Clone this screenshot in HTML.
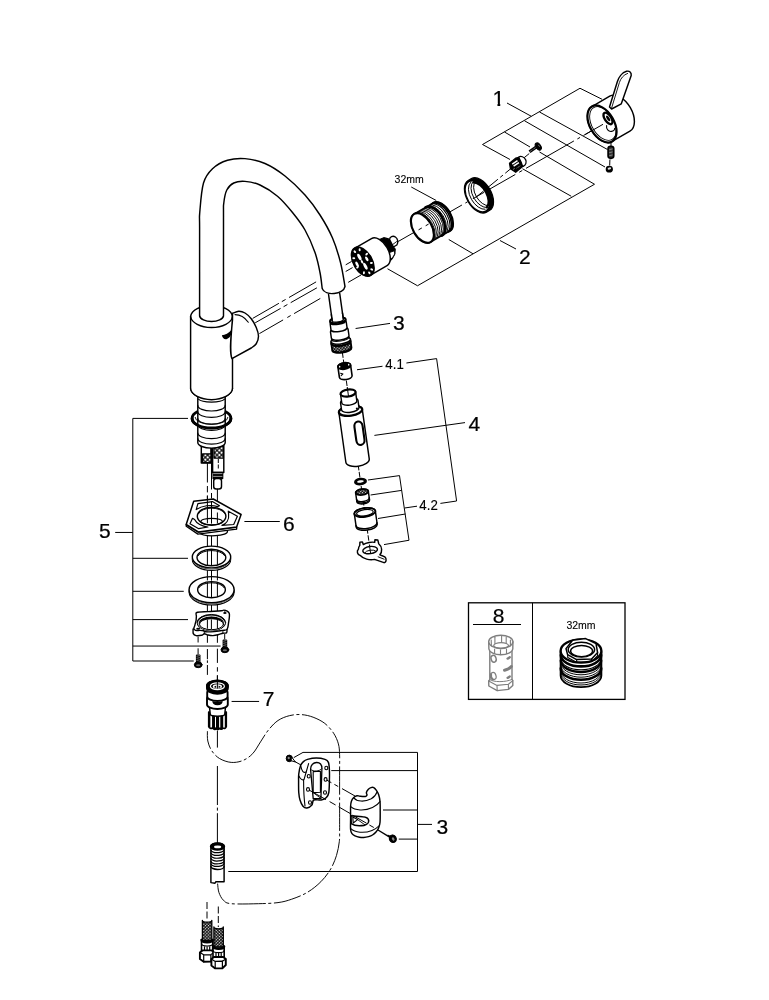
<!DOCTYPE html>
<html><head><meta charset="utf-8"><title>Exploded view</title>
<style>
html,body{margin:0;padding:0;background:#fff;}
svg{display:block;will-change:transform;}
text{font-family:"Liberation Sans",sans-serif;fill:#000;stroke:#000;stroke-width:0.22;}
.m{fill:none;stroke:#000;stroke-width:1.45;stroke-linecap:round;stroke-linejoin:round;}
.mf{fill:#fff;stroke:#000;stroke-width:1.45;stroke-linecap:round;stroke-linejoin:round;}
.h{fill:none;stroke:#000;stroke-width:2.2;stroke-linecap:round;stroke-linejoin:round;}
.hf{fill:#fff;stroke:#000;stroke-width:2.2;stroke-linecap:round;stroke-linejoin:round;}
.t{fill:none;stroke:#000;stroke-width:0.9;stroke-linecap:round;stroke-linejoin:round;}
.tf{fill:#fff;stroke:#000;stroke-width:0.9;stroke-linejoin:round;}
.l{fill:none;stroke:#000;stroke-width:1;}
.d{fill:none;stroke:#000;stroke-width:1;stroke-dasharray:13 2.5 2.5 2.5;}
.d2{fill:none;stroke:#000;stroke-width:1;stroke-dasharray:9 3;}
.k{fill:#000;stroke:none;}
.w{fill:#fff;stroke:none;}
.g{fill:none;stroke:#7e7e7e;stroke-width:1.4;stroke-linecap:round;stroke-linejoin:round;}
.gf{fill:#fff;stroke:#7e7e7e;stroke-width:1.4;stroke-linecap:round;stroke-linejoin:round;}
</style></head>
<body>
<svg width="769" height="1000" viewBox="0 0 769 1000">
<defs>
<pattern id="braid" width="2.2" height="2.2" patternUnits="userSpaceOnUse" patternTransform="rotate(45)"><rect width="2.2" height="2.2" fill="#000"/><rect x="0.55" y="0.55" width="1.25" height="1.25" fill="#fff"/></pattern>
<pattern id="braid2" width="3.3" height="3.3" patternUnits="userSpaceOnUse" patternTransform="rotate(45)"><rect width="3.3" height="3.3" fill="#000"/><rect x="0.55" y="0.55" width="2.2" height="2.2" fill="#fff"/></pattern>
</defs>
<rect width="769" height="1000" fill="#fff"/>

<g id="axis-lines-and-leaders">
<path class="l" d="M510,159.5L482.5,144.5L580,88.25L602,99.25"/>
<path class="l" d="M504.5,132L530,147"/>
<path class="l" d="M524.5,120.75L605,167"/>
<path class="l" d="M539.5,112L607.5,149.5"/>
<path class="l" d="M507,103L531.25,116.25"/>
<path class="l" d="M387.5,268.75L417.5,285.75L594.5,184.25L539.5,152"/>
<path class="l" d="M571.25,196.25L522.5,168.75"/>
<path class="l" d="M448.75,239.5L473,253.75"/>
<path class="l" d="M500,240.5L516,249"/>
<path class="l" d="M411.25,187L436.25,200.5"/>
<path class="l" d="M355.6,328.5L390,323.4"/>
<path class="l" d="M357,369.75L382.5,366.25"/>
<path class="l" d="M406.4,363L436.6,358.6L456.6,501L440.4,503.4"/>
<path class="l" d="M374.4,435.4L465,422.6"/>
<path class="l" d="M368,480L399.5,475.6L409,540.25L384,544.6"/>
<path class="l" d="M370.6,495L401.6,490.4"/>
<path class="l" d="M378,518.5L405.4,514"/>
<path class="l" d="M404.6,508L417,506.2"/>
<path class="l" d="M188,418.4L132.8,418.4L132.8,661L193.75,661"/>
<path class="l" d="M132.8,558.3L188,558.3"/>
<path class="l" d="M132.8,591.3L183.75,591.3"/>
<path class="l" d="M132.8,619.6L188,619.6"/>
<path class="l" d="M132.8,646.05L220.6,646.05"/>
<path class="l" d="M115.2,532.45L132.8,532.45"/>
<path class="l" d="M244.4,521.5L279.8,521.5"/>
<path class="l" d="M231.6,701.45L259.1,701.45"/>
<path class="l" d="M293.75,757.6L303,752.4L417.5,752.4L417.5,871.5L228.3,871.5"/>
<path class="l" d="M331.25,770.6L417.5,770.6"/>
<path class="l" d="M383,810L417.5,810"/>
<path class="l" d="M398.75,839.1L417.5,839.1"/>
<path class="l" d="M417.5,824.4L432,824.4"/>
<clipPath id="c1"><path d="M485,85H510V102.9H500.25V107H497.45V102.9H485Z"/></clipPath>
<g clip-path="url(#c1)"><text x="492.5" y="106" font-size="21.7" text-anchor="start">1</text></g>
<text x="518.9" y="264" font-size="21" text-anchor="start">2</text>
<text x="393.1" y="330" font-size="21" text-anchor="start">3</text>
<text x="468.4" y="431" font-size="21" text-anchor="start">4</text>
<text x="99" y="538" font-size="21" text-anchor="start">5</text>
<text x="282.9" y="530.6" font-size="21" text-anchor="start">6</text>
<text x="262.7" y="706.4" font-size="21" text-anchor="start">7</text>
<text x="436.6" y="834" font-size="21" text-anchor="start">3</text>
<text transform="translate(385.3,369) scale(0.95,1)" font-size="14" style="stroke-width:0.12">4.1</text>
<text transform="translate(419.3,510) scale(0.95,1)" font-size="14" style="stroke-width:0.12">4.2</text>
<text x="394.6" y="182.6" font-size="10.5" text-anchor="start" style="stroke-width:0.1">32mm</text>
</g>
<g id="faucet">
<path class="l" d="M252.7,318.4L278.9,303.31"/>
<path class="l" d="M281.8,301.64L285.6,299.45"/>
<path class="l" d="M289,297.49L316.1,281.88"/>
<path class="l" d="M345.7,264.83L351.6,261.43"/>
<path class="l" d="M255.2,322.8L280.6,308.4"/>
<path class="l" d="M283.6,306.7L287.4,304.54"/>
<path class="l" d="M290.7,302.67L316.9,287.82"/>
<path class="l" d="M345.7,271.49L352.6,267.57"/>
<path class="l" d="M259.4,333.6L283.1,319.93"/>
<path class="l" d="M287.3,317.5L290.7,315.54"/>
<path class="l" d="M294.1,313.58L320.3,298.46"/>
<path class="l" d="M348.2,282.36L361,274.98"/>
<path class="mf" d="M190.6,316.5L190.6,388.5A21,12 0 0 0 232.5,388.5L232.5,316.5A21,11.8 0 0 0 190.6,316.5Z"/>
<path class="m" d="M190.6,316.5A21,11.8 0 0 0 232.5,316.5"/>
<path class="mf" d="M199.6,316C199.6,301.67 199.57,247.33 199.6,230C199.63,212.67 199.15,219.83 199.8,212C200.45,204.17 201.38,190.21 203.5,183C205.62,175.79 208.5,172.53 212.5,168.75C216.5,164.97 222.08,161.99 227.5,160.3C232.92,158.61 238.75,158.07 245,158.6C251.25,159.13 258.33,160.6 265,163.5C271.67,166.4 278.33,170.75 285,176C291.67,181.25 299.17,188.5 305,195C310.83,201.5 315.42,207.83 320,215C324.58,222.17 329.08,230.08 332.5,238C335.92,245.92 338.42,254.42 340.5,262.5C342.58,270.58 344.25,282.5 345,286.5C343.5,294.5 325,296.5 322.2,288.5L322.2,288.5C321.83,285.83 321.2,278.5 320,272.5C318.8,266.5 317.5,259.58 315,252.5C312.5,245.42 308.75,236.67 305,230C301.25,223.33 297.08,218.12 292.5,212.5C287.92,206.88 282.92,200.83 277.5,196.25C272.08,191.67 265.42,187.47 260,185C254.58,182.53 249.38,181.73 245,181.4C240.62,181.07 236.78,181.57 233.75,183C230.72,184.43 228.46,186.67 226.8,190C225.14,193.33 224.35,198 223.8,203C223.25,208 223.55,201.17 223.5,220C223.45,238.83 223.5,300 223.5,316A12,6 0 0 1 199.6,316Z"/>
<path class="mf" d="M232.5,313.3C233.54,312.97 236.67,311.35 238.75,311.3C240.83,311.25 242.92,311.76 245,313C247.08,314.24 249.38,316.33 251.25,318.75C253.12,321.17 255.04,324.58 256.25,327.5C257.46,330.42 258.5,333.54 258.5,336.25C258.5,338.96 257.46,341.79 256.25,343.75C255.04,345.71 252.08,347.29 251.25,348L231.9,358.6C229.5,352 230.5,340 232.5,320Z"/>
<path class="m" d="M235,314.6C240,314.6 245,317.6 248.3,322.2" style="stroke-width:1.1"/>
<path class="k" d="M221.9,335.2C225,335.2 229,333.2 231.5,329.8C232.2,333.6 230.6,337.6 227,339C224.4,339.8 222.2,338 221.9,335.2Z"/>
</g>
<g id="handle-group">
<path class="l" d="M603,124.3L583.47,135.47"/>
<path class="l" d="M580,137.46L577.39,138.95"/>
<path class="l" d="M573.92,140.94L526.01,168.35"/>
<path class="l" d="M522.28,170.48L519.24,172.22"/>
<path class="l" d="M515.33,174.46L471.06,199.78"/>
<path class="l" d="M467.59,201.77L465.34,203.06"/>
<path class="l" d="M461.95,205L425.67,225.76"/>
<path class="l" d="M421.85,227.94L418.55,229.83"/>
<path class="l" d="M415.08,231.81L398.15,241.5"/>
<path class="l" d="M478.2,195.4L497.91,179.23"/>
<path class="l" d="M500.23,177.33L502.94,175.11"/>
<path class="l" d="M505.25,173.21L512.21,167.5"/>
<path class="l" d="M524.19,157.68L529.22,153.56"/>
<path class="mf" d="M372,240L379.5,239.5L383.8,237.7L388.5,238.9L390.8,242.8L393.1,246.7L395.2,249.2L394.8,254L392.2,258.6L388.5,262.6L380,262Z" style="fill:#000;stroke-width:1.2"/>
<path class="mf" d="M389.8,252.4L394.4,250.8L394.7,254L392.2,258.3L389.9,258.6Z" style="stroke-width:0.9"/>
<path class="mf" d="M389.6,239.6C389.4,236.6 393,235.4 395.4,237C397.8,238.6 398.6,242.6 396.8,245L393.4,247Z" style="stroke-width:1.4"/>
<path class="t" d="M392.6,244.6L396.6,241.6"/>
<path class="mf" d="M355,248.09L371.45,238.59A15.6,9 60 0 1 387.05,247.6A15.6,9 60 0 1 387.05,265.61L370.6,275.11A15.6,9 60 0 1 355,266.1A15.6,9 60 0 1 355,248.09Z"/>
<ellipse class="hf" cx="362.8" cy="261.6" rx="15.6" ry="9" transform="rotate(60 362.8 261.6)" style="stroke-width:2.2;fill:#000"/>
<ellipse class="w" cx="359.4" cy="257" rx="3.6" ry="1.5" transform="rotate(62 359.4 257)"/>
<ellipse class="w" cx="365.4" cy="266.2" rx="3.8" ry="1.5" transform="rotate(62 365.4 266.2)"/>
<ellipse class="w" cx="357" cy="264.2" rx="2.8" ry="1.3" transform="rotate(62 357 264.2)"/>
<ellipse class="w" cx="366.8" cy="258.8" rx="2.6" ry="1.3" transform="rotate(60 366.8 258.8)"/>
<ellipse class="w" cx="362" cy="261.8" rx="1.8" ry="1" transform="rotate(62 362 261.8)"/>
<ellipse class="w" cx="369.3" cy="272.86" rx="1.5" ry="1" transform="rotate(60 369.3 272.86)"/>
<ellipse class="w" cx="363.92" cy="272.78" rx="1.5" ry="1" transform="rotate(98 363.92 272.78)"/>
<ellipse class="w" cx="357.53" cy="267.25" rx="1.5" ry="1" transform="rotate(140 357.53 267.25)"/>
<ellipse class="w" cx="353.75" cy="258.21" rx="1.5" ry="1" transform="rotate(185 353.75 258.21)"/>
<ellipse class="w" cx="354.84" cy="251.7" rx="1.5" ry="1" transform="rotate(225 354.84 251.7)"/>
<ellipse class="w" cx="359.65" cy="249.81" rx="1.5" ry="1" transform="rotate(265 359.65 249.81)"/>
<ellipse class="w" cx="366.68" cy="254.23" rx="1.5" ry="1" transform="rotate(310 366.68 254.23)"/>
<ellipse class="w" cx="371.43" cy="262.96" rx="1.5" ry="1" transform="rotate(355 371.43 262.96)"/>
<ellipse class="w" cx="371.68" cy="269.47" rx="1.5" ry="1" transform="rotate(390 371.68 269.47)"/>
<path class="mf" d="M414.25,213.88L433.3,202.88A16.3,9.41 60 0 1 449.6,212.3A16.3,9.41 60 0 1 449.6,231.12L430.55,242.12A16.3,9.41 60 0 1 414.25,232.7A16.3,9.41 60 0 1 414.25,213.88Z"/>
<path class="m" d="M433.3,202.88A16.3,9.41 60 0 1 449.6,212.3A16.3,9.41 60 0 1 449.6,231.12" style="stroke-width:2.2"/>
<path class="m" d="M431.83,203.73A16.3,9.41 60 0 1 448.13,213.15A16.3,9.41 60 0 1 448.13,231.97" style="stroke-width:1.6"/>
<path class="m" d="M430.36,204.58A16.3,9.41 60 0 1 446.65,214A16.3,9.41 60 0 1 446.66,232.82" style="stroke-width:1.1"/>
<path class="m" d="M428.63,205.58A16.3,9.41 60 0 1 444.92,215A16.3,9.41 60 0 1 444.93,233.82" style="stroke-width:1.0"/>
<path class="m" d="M426.89,206.58A16.3,9.41 60 0 1 443.19,216A16.3,9.41 60 0 1 443.19,234.82" style="stroke-width:1.0"/>
<path class="m" d="M425.51,207.38A16.3,9.41 60 0 1 441.8,216.8A16.3,9.41 60 0 1 441.81,235.62" style="stroke-width:2.6"/>
<path class="m" d="M423.78,208.38A16.3,9.41 60 0 1 440.07,217.8A16.3,9.41 60 0 1 440.08,236.62" style="stroke-width:0.95"/>
<path class="m" d="M422.04,209.38A16.3,9.41 60 0 1 438.34,218.8A16.3,9.41 60 0 1 438.34,237.62" style="stroke-width:0.95"/>
<path class="m" d="M420.31,210.38A16.3,9.41 60 0 1 436.61,219.8A16.3,9.41 60 0 1 436.61,238.62" style="stroke-width:0.95"/>
<path class="m" d="M418.58,211.38A16.3,9.41 60 0 1 434.88,220.8A16.3,9.41 60 0 1 434.88,239.62" style="stroke-width:0.95"/>
<path class="m" d="M416.85,212.38A16.3,9.41 60 0 1 433.14,221.8A16.3,9.41 60 0 1 433.15,240.62" style="stroke-width:0.95"/>
<path class="m" d="M415.46,213.18A16.3,9.41 60 0 1 431.76,222.6A16.3,9.41 60 0 1 431.76,241.42" style="stroke-width:0.9"/>
<ellipse class="hf" cx="422.4" cy="228" rx="16.3" ry="9.41" transform="rotate(60 422.4 228)"/>
<path class="l" d="M428.62,224.07L425.67,225.76"/>
<path class="l" d="M421.85,227.94L418.55,229.83"/>
<path class="mf" d="M468.15,180.45L471.44,178.55A18.3,10.56 60 0 1 489.74,189.12A18.3,10.56 60 0 1 489.74,210.25L486.45,212.15A18.3,10.56 60 0 1 468.16,201.58A18.3,10.56 60 0 1 468.15,180.45Z" style="fill:#000;stroke-width:1.2"/>
<ellipse class="w" cx="477.3" cy="196.3" rx="16.3" ry="9.41" transform="rotate(60 477.3 196.3)"/>
<path class="m" d="M485.06,209.3A15.6,9 60 0 1 471.58,199.6A15.6,9 60 0 1 470.81,182.13" style="stroke-width:1.0"/>
<path class="m" d="M486.88,207.46A14.9,8.6 60 0 1 474.01,198.2A14.9,8.6 60 0 1 473.27,181.52" style="stroke-width:1.0"/>
<path class="m" d="M488.71,205.62A14.2,8.19 60 0 1 476.44,196.8A14.2,8.19 60 0 1 475.73,180.9" style="stroke-width:1.0"/>
<path class="m" d="M473.65,182.37A14.6,8.42 60 0 1 486.8,207.42" style="stroke-width:2.2"/>
<path class="l" d="M484.08,192.33L472.8,198.79"/>
<path class="l" d="M475.88,197.3L483.61,190.96"/>
<path class="mf" d="M518.6,157.2C520.8,155.6 524.2,156.8 525.6,159.6C526.8,162 526,165 523.3,166.3L519.5,164Z" style="stroke-width:1.3"/>
<path class="mf" d="M509.5,163.2L515.6,158.2L518.8,157.5L521.3,162.6L522.6,166.4L515.7,172.3L510.4,168.6Z" style="fill:#000;stroke-width:1.3"/>
<path class="m" d="M512.2,164.1L517.5,160.6" style="stroke:#fff;stroke-width:1.5;stroke-linecap:butt"/>
<path class="m" d="M513.6,166.2L518.9,162.7" style="stroke:#fff;stroke-width:1.5;stroke-linecap:butt"/>
<path class="m" d="M516.6,168.2L520.6,165.6" style="stroke:#999;stroke-width:0.9;stroke-dasharray:1 0.7;stroke-linecap:butt"/>
<path class="m" d="M513.2,169.4L514.6,168.5" style="stroke:#bbb;stroke-width:0.8;stroke-linecap:butt"/>
<path class="m" d="M529.5,151.8L536.6,146.7" style="stroke-width:3.2;stroke-linecap:butt;stroke:#000"/>
<path class="m" d="M530.4,151.2L536,147.2" style="stroke-width:1.0;stroke-linecap:butt;stroke:#eee;stroke-dasharray:0.6 0.9"/>
<ellipse class="mf" cx="538.3" cy="146.5" rx="4" ry="2.4" transform="rotate(54 538.3 146.5)" style="fill:#000;stroke-width:1"/>
<path class="t" d="M538.6,145.2L539.4,146.4" style="stroke:#aaa;stroke-width:0.7"/>
<path class="mf" d="M591.9,106.51L609.74,96.21A20.2,12.12 60 0 1 630.34,107.64A20.2,12.12 60 0 1 629.94,131.19L612.1,141.49A20.2,12.12 60 0 1 591.5,130.06A20.2,12.12 60 0 1 591.9,106.51Z"/>
<ellipse class="hf" cx="602" cy="124" rx="20.2" ry="12.12" transform="rotate(60 602 124)"/>
<ellipse class="t" cx="602.9" cy="123.5" rx="18.4" ry="11.04" transform="rotate(60 602.9 123.5)"/>
<path class="l" d="M603,124.3L585.21,134.48"/>
<ellipse class="mf" cx="608" cy="118.4" rx="6.6" ry="3.2" transform="rotate(56 608 118.4)" style="stroke-width:2.4"/>
<ellipse class="k" cx="608.2" cy="118.4" rx="3.2" ry="1.3" transform="rotate(56 608.2 118.4)"/>
<path class="m" d="M606.6,125.5C606,129 608.5,131.8 611.5,131.4C613.5,131.2 614.8,130 614.6,128.4" style="stroke-width:1.1"/>
<path class="mf" d="M609.5,107L617.4,81.5C618.6,77.5 622,72.5 626.5,71.3C629.5,70.5 631.6,72.5 631.2,75.5L621.3,103.8L611.6,109Z"/>
<path class="t" d="M611.5,108.4L619.4,82.5C620.6,78.6 623.6,74.6 627.6,73.4"/>
<path class="l" d="M611,142L611,146.5"/>
<rect x="608.1" y="146.3" width="5.6" height="12" rx="2.6" ry="2.2" style="fill:#333;stroke:#000;stroke-width:1.7"/>
<path class="t" d="M609.6,149.6L612.2,149" style="stroke:#999;stroke-width:0.8"/>
<path class="t" d="M609.6,152.6L612.2,152" style="stroke:#999;stroke-width:0.8"/>
<path class="t" d="M609.6,155.6L612.2,155" style="stroke:#999;stroke-width:0.8"/>
<path class="l" d="M609.9,159.5L609.7,165.5"/>
<ellipse class="mf" cx="609.3" cy="169.2" rx="3" ry="2.8" style="fill:#000;stroke-width:1.2"/>
<ellipse class="w" cx="609.4" cy="168.5" rx="1.8" ry="1.1" transform="rotate(-15 609.4 168.5)" style="fill:#ddd"/>
</g>
<g id="spray-head">
<g transform="rotate(-8 334 293)">
<path class="d2" d="M334,353L334,556" style="stroke-dasharray:5.5 1.6"/>
<rect class="w" x="328.3" y="295.2" width="11.4" height="28"/>
<path class="m" d="M328.4,293.6L328.4,320"/>
<path class="m" d="M339.6,294.2L339.6,320"/>
<path class="mf" d="M324.3,341L324.3,349.8A9.7,3.3 0 0 0 343.7,349.8L343.7,341A9.7,3.3 0 0 0 324.3,341Z" style="fill:url(#braid);stroke-width:1.8"/>
<ellipse class="mf" cx="334" cy="341" rx="9.7" ry="3.3" style="stroke-width:1.2"/>
<path class="m" d="M324.4,342.9A9.6,3.3 0 0 0 343.6,342.9" style="stroke-width:2"/>
<path class="m" d="M324.5,349.2A9.5,3.3 0 0 0 343.5,349.2" style="stroke-width:1.6"/>
<path class="mf" d="M325.1,331L325.1,337.4A8.9,3 0 0 0 342.9,337.4L342.9,331A8.9,3 0 0 0 325.1,331Z"/>
<path class="m" d="M324.9,338.6A9.1,3 0 0 0 343.1,338.6" style="stroke-width:1.0"/>
<path class="mf" d="M325.9,323.4L325.9,329A8.1,2.8 0 0 0 342.1,329L342.1,323.4A8.1,2.8 0 0 0 325.9,323.4Z"/>
<path class="mf" d="M326.2,320.6L326.2,321.8A7.8,2.6 0 0 0 341.8,321.8L341.8,320.6A7.8,2.6 0 0 0 326.2,320.6Z" style="stroke-width:1.8"/>
<ellipse class="hf" cx="334" cy="320.6" rx="7.8" ry="2.6" style="stroke-width:1.8"/>
<rect class="w" x="329.1" y="315" width="9.8" height="6.3"/>
<path class="m" d="M328.4,314L328.4,320.6"/>
<path class="m" d="M339.6,314L339.6,320.2"/>
<path class="m" d="M328.4,320.4A5.6,1.9 0 0 0 339.6,320.2" style="stroke-width:1.1"/>
<path class="mf" d="M327.6,366.6L327.6,377.4A6.4,2.9 0 0 0 340.4,377.4L340.4,366.6A6.4,2.9 0 0 0 327.6,366.6Z" style="stroke-width:1.6"/>
<ellipse class="hf" cx="334" cy="366.7" rx="6.4" ry="3.2" style="fill:#000;stroke-width:1.8"/>
<ellipse class="w" cx="329.4" cy="366.8" rx="0.7" ry="1"/>
<ellipse class="w" cx="338.6" cy="366" rx="0.7" ry="1"/>
<path class="m" d="M329.4,373.4L331.6,374.4L329.6,375.8" style="stroke-width:1.1"/>
<path class="mf" d="M322.2,412L322.2,462.5A11.8,5.4 0 0 0 345.8,462.5L345.8,412A11.8,5.4 0 0 0 322.2,412Z"/>
<ellipse class="hf" cx="334" cy="412" rx="11.8" ry="4.8"/>
<path class="mf" d="M325.2,402.5L325.2,410A8.8,3.4 0 0 0 342.8,410L342.8,402.5A8.8,3.4 0 0 0 325.2,402.5Z"/>
<path class="mf" d="M326.4,394L326.4,403A7.6,3.2 0 0 0 341.6,403L341.6,394A7.6,3.2 0 0 0 326.4,394Z"/>
<ellipse class="hf" cx="334" cy="394" rx="7.6" ry="3.5"/>
<ellipse class="k" cx="340.6" cy="410.6" rx="1.1" ry="1.1"/>
<path class="l" d="M334,388L334,398"/>
<rect class="hf" x="335.6" y="423.6" width="8.2" height="23.6" rx="4.1" ry="5" style="stroke-width:2.1"/>
<ellipse class="hf" cx="334" cy="483.4" rx="5.7" ry="3" style="fill:#000;stroke-width:1.6"/>
<ellipse class="w" cx="334" cy="483.3" rx="3.3" ry="1.2"/>
<path class="mf" d="M327.6,494L327.6,503A6.4,2.9 0 0 0 340.4,503L340.4,494A6.4,2.9 0 0 0 327.6,494Z"/>
<path class="m" d="M327.6,500.6A6.4,2.9 0 0 0 340.4,500.6"/>
<path class="m" d="M327.6,502A6.4,2.9 0 0 0 340.4,502"/>
<ellipse class="hf" cx="334" cy="494" rx="6.4" ry="2.9" style="fill:url(#braid);stroke-width:1.8"/>
<path class="mf" d="M323.4,514.6L323.4,528A10.6,4.4 0 0 0 344.6,528L344.6,514.6A10.6,4.4 0 0 0 323.4,514.6Z"/>
<path class="m" d="M323.4,526.4A10.6,4.4 0 0 0 344.6,526.4"/>
<ellipse class="hf" cx="334" cy="514.6" rx="10.6" ry="4.4" style="stroke-width:1.9"/>
<ellipse class="m" cx="334" cy="514.9" rx="8.4" ry="3.1" style="stroke-width:1.2"/>
<path class="t" d="M326.8,517A8.4,3.1 0 0 0 341.2,517"/>
<path class="mf" d="M324.4,546.5L325,543.3L327.5,543.6L328,546.2C331,544.6 337,544.6 339.6,545.6L340.2,543L343,543.6L343.4,547.5C346.5,551 346,556 343,558.6L347.6,561.4C349.2,563 348.6,567.4 346,567L337,562.4C332,562.6 326,560.5 323.5,556.6C320.5,555.6 320.4,551.5 322.5,550.2C322.8,548.6 323.4,547.4 324.4,546.5Z"/>
<ellipse class="m" cx="334" cy="552.6" rx="7.4" ry="3.6"/>
<path class="t" d="M328.4,554.5A5.8,2.4 0 0 1 339.6,554.5"/>
<path class="t" d="M341,560.4L346.6,563.6"/>
<path class="l" d="M334,547L334,556"/>
</g>
</g>
<g id="mounting-set">
<path class="l" d="M207.4,463L207.4,482.5"/>
<path class="l" d="M207.4,486L207.4,492.4"/>
<path class="l" d="M207.4,495.6L207.4,642.8"/>
<path class="l" d="M207.4,649L207.4,659.2"/>
<path class="l" d="M207.4,660.4L207.4,662.9"/>
<path class="l" d="M207.4,665L207.4,674.9"/>
<path class="l" d="M211.5,447L211.5,489.5"/>
<path class="l" d="M211.5,493L211.5,498.5"/>
<path class="l" d="M211.5,501L211.5,634"/>
<path class="l" d="M217.4,489L217.4,642.8"/>
<path class="l" d="M217.4,648.7L217.4,662.9"/>
<path class="l" d="M217.4,667.2L217.4,671.6"/>
<path class="l" d="M217.4,675.3L217.4,682"/>
<path class="l" d="M198.1,636.7L198.1,642.5"/>
<path class="l" d="M198.1,648.3L198.1,654.4"/>
<path class="l" d="M224.7,634L224.7,639.4"/>
<rect class="mf" x="201.3" y="440" width="9.6" height="23"/>
<rect class="m" x="202.6" y="453.8" width="8.4" height="8.8" style="fill:url(#braid2);stroke-width:1.3"/>
<rect class="mf" x="212.6" y="440" width="11.2" height="32.5"/>
<rect class="m" x="214" y="446.5" width="9.4" height="11.6" style="fill:url(#braid2);stroke-width:1.3"/>
<path class="d2" d="M218.3,459L218.3,469" style="stroke-dasharray:4 1.5"/>
<rect class="mf" x="213.2" y="472.5" width="9.4" height="6" style="fill:#000"/>
<rect class="mf" x="213.7" y="478.5" width="7.8" height="10.5" rx="2.5"/>
<path class="t" d="M213.6,473.6L222,473.6" style="stroke:#fff;stroke-width:0.6"/>
<path class="t" d="M213.6,476.4L222,476.4" style="stroke:#fff;stroke-width:0.6"/>
<ellipse class="h" cx="211.5" cy="418.4" rx="19.4" ry="9.6" style="stroke-width:2.8"/>
<path class="mf" d="M197.8,397.4L197.8,442.5A13.7,5.6 0 0 0 225.2,442.5L225.2,397.4"/>
<path class="mf" d="M190.6,388.5A21,12 0 0 0 232.5,388.5"/>
<path class="m" d="M198.4,399.2A13.6,4 0 0 0 224.6,399.2" style="stroke-width:1.1"/>
<path class="m" d="M197.8,405.4A13.7,5.6 0 0 0 225.2,405.4" style="stroke-width:1.2"/>
<path class="m" d="M197.8,411.8A13.7,5.6 0 0 0 225.2,411.8" style="stroke-width:1.2"/>
<path class="m" d="M197.8,418.6A13.7,5.6 0 0 0 225.2,418.6" style="stroke-width:1.2"/>
<path class="m" d="M197.8,424.8A13.7,5.6 0 0 0 225.2,424.8" style="stroke-width:1.2"/>
<path class="m" d="M197.8,433A13.7,5.6 0 0 0 225.2,433" style="stroke-width:1.2"/>
<path class="m" d="M197.8,438.6A13.7,5.6 0 0 0 225.2,438.6" style="stroke-width:1.2"/>
<path class="h" d="M192.1,418.4A19.4,9.6 0 0 0 230.9,418.4" style="stroke-width:2.8"/>
<path class="t" d="M195.1,417.4A16.4,7 0 0 0 227.9,417.4"/>
<path class="mf" d="M199.1,532.6A14.4,4.2 0 0 0 227.4,531.2L227.4,527L199.1,527Z" style="stroke-width:1.3"/>
<path class="mf" d="M186.2,526.3L197.9,534.1L236.6,529.1L236.6,527L198.3,532L186.2,524.5Z" style="stroke-width:1.3"/>
<path class="mf" d="M193.7,501.2L213.3,499L241.1,514.5L236.6,527L198.3,532L186.2,524.5Z" style="stroke-width:1.5"/>
<path class="t" d="M236.6,527L236.6,529.1"/>
<path class="mf" d="M197.9,503.7L212.4,501.6L219.5,505.8L217.4,506.6C211,504.4 202,505.6 196.2,509.6Z" style="stroke-width:1.2"/>
<path class="mf" d="M228.3,511.2L237.4,516.2L233.7,524.5L222,525.4C226,524 229.4,520 228.6,514Z" style="stroke-width:1.2"/>
<path class="mf" d="M192.5,518.3L190,523.7L198.7,528.7L207.9,527C202,526.6 196.4,523.4 194.6,519.6Z" style="stroke-width:1.2"/>
<ellipse class="mf" cx="211.6" cy="516.2" rx="14.3" ry="9" style="stroke-width:1.4"/>
<ellipse class="m" cx="211.6" cy="521.6" rx="10.8" ry="3.3" style="stroke-width:1.2"/>
<path class="t" d="M198.6,513.6A13.4,7 0 0 1 224.6,513.4"/>
<path class="l" d="M207.4,495.6L207.4,523.3"/>
<path class="l" d="M211.5,501L211.5,523.6"/>
<path class="l" d="M217.4,512.5L217.4,523.3"/>
<ellipse class="mf" cx="211.5" cy="559.6" rx="19.2" ry="10.85" style="stroke-width:1.1"/>
<ellipse class="mf" cx="211.5" cy="558.3" rx="19.2" ry="10.85" style="stroke-width:0.7"/>
<ellipse class="mf" cx="211.5" cy="557" rx="19.2" ry="10.85" style="stroke-width:1.4"/>
<ellipse class="mf" cx="211.4" cy="557.5" rx="14.4" ry="8.3" style="stroke-width:1.4"/>
<path class="m" d="M198.2,555.6A13.6,6.6 0 0 1 224.6,555.6" style="stroke-width:1"/>
<path class="l" d="M207.4,549.8L207.4,565"/>
<path class="l" d="M211.5,549.4L211.5,565.4"/>
<path class="l" d="M217.4,549.9L217.4,564.8"/>
<ellipse class="mf" cx="211.6" cy="591.9" rx="22.5" ry="13.1" style="stroke-width:1.1"/>
<ellipse class="mf" cx="211.6" cy="590.8" rx="22.5" ry="13.1" style="stroke-width:0.6"/>
<ellipse class="mf" cx="211.6" cy="589.7" rx="22.5" ry="13.1" style="stroke-width:1.4"/>
<path class="l" d="M207.4,576.6L207.4,580.4"/>
<path class="l" d="M211.5,576.6L211.5,580.6"/>
<path class="l" d="M217.4,576.8L217.4,580.4"/>
<ellipse class="mf" cx="211.5" cy="589.7" rx="13.85" ry="8.1" style="stroke-width:1.4"/>
<path class="m" d="M198.8,587.8A13,6.4 0 0 1 224.2,587.8" style="stroke-width:1"/>
<path class="l" d="M207.4,582.2L207.4,597.2"/>
<path class="l" d="M211.5,581.8L211.5,597.6"/>
<path class="l" d="M217.4,582.4L217.4,597"/>
<path class="mf" d="M193.1,629C193.13,629.77 192.8,632.5 193.3,633.6C193.8,634.7 194.72,635.32 196.1,635.6C197.48,635.88 200.22,635.6 201.6,635.3C202.98,635 203.33,633.85 204.4,633.8C205.47,633.75 206.57,634.7 208,635C209.43,635.3 211.33,635.63 213,635.6C214.67,635.57 216.35,635.2 218,634.8C219.65,634.4 221.47,633.53 222.9,633.2C224.33,632.87 225.92,633.5 226.6,632.8C227.28,632.1 226.93,629.63 227,629Z" style="stroke-width:1.4"/>
<path class="mf" d="M196.8,612.5C198.73,611.77 203.93,611.88 208,611.6C212.07,611.32 218.55,611.05 221.2,610.8C223.85,610.55 222.9,610.03 223.9,610.1C224.9,610.17 226.3,610.63 227.2,611.2C228.1,611.77 228.95,612.43 229.3,613.5C229.65,614.57 229.42,616.1 229.3,617.6C229.18,619.1 228.83,620.93 228.6,622.5C228.37,624.07 228.23,625.79 227.9,627C227.57,628.21 227.5,629.18 226.6,629.75C225.7,630.32 224.6,630.09 222.5,630.4C220.4,630.71 216.82,631.37 214,631.6C211.18,631.83 207.33,631.93 205.6,631.8C203.87,631.67 204.53,631.03 203.6,630.8C202.67,630.57 201.35,630.47 200,630.4C198.65,630.33 196.53,630.73 195.5,630.4C194.47,630.07 193.97,629.07 193.8,628.4C193.63,627.73 194.23,627.3 194.5,626.4C194.77,625.5 195.13,624.02 195.4,623C195.67,621.98 195.93,621.47 196.1,620.3C196.27,619.13 196.28,617.3 196.4,616C196.52,614.7 194.87,613.23 196.8,612.5Z" style="stroke-width:1.4"/>
<path class="t" d="M204.3,631.2L204.3,633.8"/>
<path class="t" d="M222.9,630.4L222.9,633.1"/>
<ellipse class="mf" cx="211.35" cy="622.65" rx="14.3" ry="8.2" style="stroke-width:1;fill:#000"/>
<ellipse class="mf" cx="211.4" cy="623.1" rx="13.2" ry="7.1" style="stroke-width:0.9;stroke:#fff;fill:#000"/>
<ellipse class="mf" cx="211.5" cy="624.2" rx="12" ry="5.5" style="stroke-width:1"/>
<ellipse class="k" cx="224.9" cy="612.9" rx="1.7" ry="1"/>
<ellipse class="k" cx="198.2" cy="628.7" rx="2" ry="1"/>
<path class="t" d="M224.9,610.6L224.9,612.4"/>
<path class="l" d="M207.4,619.6L207.4,628.7"/>
<path class="l" d="M211.4,619.4L211.4,629.2"/>
<path class="l" d="M217.4,619.6L217.4,628.7"/>
<rect x="222.6" y="639.4" width="4.6" height="9.4" rx="1" style="fill:#000"/>
<path class="t" d="M223.6,641.2L226.2,640.6" style="stroke:#8c8c8c;stroke-width:0.8"/>
<path class="t" d="M223.6,643.3L226.2,642.7" style="stroke:#8c8c8c;stroke-width:0.8"/>
<path class="t" d="M223.6,645.4L226.2,644.8" style="stroke:#8c8c8c;stroke-width:0.8"/>
<path class="t" d="M223.6,647.5L226.2,646.9" style="stroke:#8c8c8c;stroke-width:0.8"/>
<ellipse class="mf" cx="224.9" cy="649.8" rx="3.9" ry="2.9" style="fill:#000;stroke-width:1"/>
<ellipse class="w" cx="224.9" cy="650.2" rx="2.1" ry="1" style="fill:#6a6a6a"/>
<rect x="195.9" y="654.4" width="4.6" height="9.4" rx="1" style="fill:#000"/>
<path class="t" d="M196.9,656.2L199.5,655.6" style="stroke:#8c8c8c;stroke-width:0.8"/>
<path class="t" d="M196.9,658.3L199.5,657.7" style="stroke:#8c8c8c;stroke-width:0.8"/>
<path class="t" d="M196.9,660.4L199.5,659.8" style="stroke:#8c8c8c;stroke-width:0.8"/>
<path class="t" d="M196.9,662.5L199.5,661.9" style="stroke:#8c8c8c;stroke-width:0.8"/>
<ellipse class="mf" cx="198.2" cy="664.8" rx="3.9" ry="2.9" style="fill:#000;stroke-width:1"/>
<ellipse class="w" cx="198.2" cy="665.2" rx="2.1" ry="1" style="fill:#6a6a6a"/>
<path d="M208.6,712L208.6,726.6C209.4,728.4 211,729.2 212.4,728.2C213.6,729.8 215.6,729.8 216.4,728.6C217,729.8 218.6,729.8 219.4,728.6C220.4,729.8 222.4,729.6 223.2,728.2C224.6,729 226,728.2 226.4,726.6L226.4,712Z" style="fill:#000;stroke:#000;stroke-width:1.4;stroke-linejoin:round"/>
<path class="t" d="M211.2,715.2L211.2,727.4" style="stroke:#fff;stroke-width:1.7;stroke-linecap:butt"/>
<path class="t" d="M215.5,715.2L215.5,727.4" style="stroke:#fff;stroke-width:1.0;stroke-linecap:butt"/>
<path class="t" d="M219.7,715.2L219.7,727.4" style="stroke:#fff;stroke-width:1.2;stroke-linecap:butt"/>
<path class="t" d="M224,715.2L224,727.4" style="stroke:#fff;stroke-width:1.6;stroke-linecap:butt"/>
<path class="mf" d="M209.4,706L210.2,714A7.3,2.2 0 0 0 224.8,714L225.6,706Z" style="stroke-width:1.5"/>
<path class="mf" d="M207,698.6L207,704.6A10.4,4.4 0 0 0 227.8,704.6L227.8,698.6A10.4,4.4 0 0 0 207,698.6Z" style="stroke-width:1.9"/>
<path class="k" d="M212.4,701C214.6,702 220.4,702 222.6,701C222.8,703.4 221,705.2 217.5,705.2C214,705.2 212.2,703.4 212.4,701Z"/>
<path class="mf" d="M207.2,692.4L207.2,696.4A10.2,4.6 0 0 0 227.6,696.4L227.6,692.4A10.2,4.6 0 0 0 207.2,692.4Z" style="stroke-width:1.9"/>
<path class="mf" d="M207,686L207,688.4A10.4,5.4 0 0 0 227.8,688.4L227.8,686A10.4,5.4 0 0 0 207,686Z" style="stroke-width:1.9;fill:#000"/>
<ellipse class="hf" cx="217.4" cy="686" rx="10.4" ry="5.5" style="stroke-width:2.1;fill:#000"/>
<ellipse class="mf" cx="217.4" cy="686.2" rx="7" ry="3.4" style="stroke-width:1.2;stroke:#fff;fill:#000"/>
<ellipse class="w" cx="217.4" cy="686.5" rx="4.6" ry="2.2"/>
<path class="k" d="M213.8,687L216.2,685.4L216.2,688ZM221,687L218.6,685.4L218.6,688Z"/>
<path class="l" d="M217.4,675.3L217.4,688.6"/>
</g>
<g id="hose">
<path class="d" d="M207.4,731.2C207.47,732.83 207.08,737.75 207.8,741C208.52,744.25 209.75,747.78 211.7,750.7C213.65,753.62 216.25,756.55 219.5,758.5C222.75,760.45 227.3,762.07 231.2,762.4C235.1,762.73 239.32,761.97 242.9,760.5C246.48,759.03 249.77,756.7 252.7,753.6C255.63,750.5 257.9,745.8 260.5,741.9C263.1,738 265.38,733.77 268.3,730.2C271.22,726.63 274.43,722.93 278,720.5C281.57,718.07 285.8,716.58 289.7,715.6C293.6,714.62 297.5,714.33 301.4,714.6C305.3,714.87 309.2,715.73 313.1,717.2C317,718.67 321.38,720.73 324.8,723.4C328.22,726.07 331.33,729.78 333.6,733.2C335.87,736.62 337.4,740.33 338.4,743.9C339.4,747.47 339.4,750.25 339.6,754.6C339.8,758.95 339.6,762.43 339.6,770C339.6,777.57 339.6,790 339.6,800C339.6,810 339.65,823.05 339.6,830C339.55,836.95 339.82,837.47 339.3,841.7C338.78,845.93 337.93,850.85 336.5,855.4C335.07,859.95 333.3,864.62 330.7,869C328.1,873.38 324.8,877.8 320.9,881.7C317,885.6 312.17,889.48 307.3,892.4C302.43,895.32 296.58,897.5 291.7,899.2C286.82,900.9 283.53,901.85 278,902.6C272.47,903.35 266.3,903.52 258.5,903.7C250.7,903.88 237.05,904.28 231.2,903.7C225.35,903.12 225.45,902.08 223.4,900.2C221.35,898.32 219.87,895.17 218.9,892.4C217.93,889.63 217.82,885.07 217.6,883.6" style="stroke-width:0.95;stroke-dasharray:28 2.6 3 2.6;stroke-dashoffset:10"/>
<path class="l" d="M217.4,730.5L217.4,747.6"/>
<path class="d" d="M217.4,766L217.4,846" style="stroke-dasharray:39 2.6 3 2.6"/>
<path class="mf" d="M210.9,846.5L210.9,882.6L215,883.2L216,881.6L224.1,881.8L224.1,846.5A6.6,3.2 0 0 0 210.9,846.5Z"/>
<path class="m" d="M210.9,866.4A6.6,3 0 0 0 224.1,866.4"/>
<path class="m" d="M211,850.2A6.6,3 0 0 0 224,849" style="stroke-width:1.25"/>
<path class="m" d="M211,853A6.6,3 0 0 0 224,851.8" style="stroke-width:1.25"/>
<path class="m" d="M211,855.8A6.6,3 0 0 0 224,854.6" style="stroke-width:1.25"/>
<path class="m" d="M211,858.6A6.6,3 0 0 0 224,857.4" style="stroke-width:1.25"/>
<path class="m" d="M211,861.4A6.6,3 0 0 0 224,860.2" style="stroke-width:1.25"/>
<path class="m" d="M211,864A6.6,3 0 0 0 224,862.8" style="stroke-width:1.25"/>
<ellipse class="hf" cx="217.5" cy="846.5" rx="6.6" ry="3.2" style="fill:#000"/>
<ellipse class="w" cx="217.6" cy="846.9" rx="3.6" ry="1.4"/>
<path class="mf" d="M300.6,765.6C301.38,763.53 302.25,762.63 303.4,761.6C304.55,760.57 305.36,760 307.5,759.4C309.64,758.8 313.33,758 316.25,758C319.17,758 322.98,758.67 325,759.4C327.02,760.13 327.67,760.63 328.4,762.4C329.13,764.17 329.23,766.9 329.4,770C329.57,773.1 329.5,777.25 329.4,781C329.3,784.75 329.3,789.75 328.8,792.5C328.3,795.25 327.66,796.25 326.4,797.5C325.14,798.75 323.36,799.58 321.25,800C319.14,800.42 315.31,799.17 313.75,800C312.19,800.83 313.04,803.67 311.9,805C310.76,806.33 308.38,807.79 306.9,808C305.42,808.21 304.15,807.58 303,806.25C301.85,804.92 300.71,802.29 300,800C299.29,797.71 298.98,795.5 298.75,792.5C298.52,789.5 298.6,785.08 298.6,782C298.6,778.92 298.42,776.73 298.75,774C299.08,771.27 299.83,767.67 300.6,765.6Z"/>
<path class="m" d="M300.8,766.2C301.6,770.6 303.4,773.4 306.2,772L308.6,763.6" style="stroke-width:1.1"/>
<path class="m" d="M303.6,780C303.6,790 304.2,800 305,806" style="stroke-width:1.1"/>
<path class="m" d="M298.9,776C300.4,779.4 302.6,780.4 304,779.6L306.2,772" style="stroke-width:1.1"/>
<path class="mf" d="M310.6,769.6C310.4,764.6 313.6,762.6 316.6,762.5C320,762.4 322,764.6 321.9,768.6L320.9,798.4L313.2,798.6Z" style="stroke-width:1.3"/>
<path class="m" d="M313.2,771.6L320.4,771.2L320.4,792.2L313.2,792.6Z" style="stroke-width:1.1"/>
<path class="t" d="M310.8,769.4C313,772 319.6,771.6 321.8,768.6"/>
<path class="t" d="M313.2,792.6L320.9,798.4"/>
<ellipse class="mf" cx="326.3" cy="768" rx="1.5" ry="1.8" style="stroke-width:1.1"/>
<ellipse class="mf" cx="325.6" cy="779.4" rx="1.5" ry="1.8" style="stroke-width:1.1"/>
<ellipse class="mf" cx="325" cy="792.5" rx="1.5" ry="1.8" style="stroke-width:1.1"/>
<ellipse class="mf" cx="308.75" cy="776.25" rx="1.5" ry="1.8" style="stroke-width:1.1"/>
<ellipse class="mf" cx="308" cy="789.4" rx="1.5" ry="1.8" style="stroke-width:1.1"/>
<ellipse class="mf" cx="310" cy="802.5" rx="1.5" ry="1.8" style="stroke-width:1.1"/>
<ellipse class="mf" cx="289.3" cy="758.4" rx="3.1" ry="3.3" style="fill:#000;stroke-width:1"/>
<ellipse class="w" cx="288.7" cy="758" rx="1.1" ry="1.3" style="fill:#888"/>
<path class="mf" d="M291.6,757L295.4,762L291.4,760.8Z" style="stroke-width:1"/>
<path class="l" d="M294.4,761.3L301,765"/>
<path class="l" d="M326.6,780L331.4,782.7"/>
<path class="l" d="M334.4,784.4L338.2,786.5"/>
<path class="l" d="M342,788.6L355,796"/>
<path class="l" d="M309,790L326,799.6"/>
<path class="l" d="M329.6,801.6L335.6,805"/>
<path class="l" d="M338.6,806.8L350,813.4"/>
<path class="mf" d="M350.6,806.25C350.47,809.04 350.6,814.12 350.6,818C350.6,821.88 350.37,826.9 350.6,829.5C350.83,832.1 351.27,832.55 352,833.6C352.73,834.65 353.77,835.2 355,835.8C356.23,836.4 357.94,836.92 359.4,837.2C360.86,837.48 362.22,837.6 363.75,837.5C365.28,837.4 367.14,837.02 368.6,836.6C370.06,836.18 371.27,835.77 372.5,835C373.73,834.23 374.98,833.17 376,832C377.02,830.83 377.93,829.58 378.6,828C379.27,826.42 379.73,825.17 380,822.5C380.27,819.83 380.2,815.54 380.2,812C380.2,808.46 380.27,804.15 380,801.25C379.73,798.35 379.2,796.41 378.6,794.6C378,792.79 377.21,791.57 376.4,790.4C375.59,789.23 374.65,788.07 373.75,787.6C372.85,787.13 371.89,787.33 371,787.6C370.11,787.87 369.17,788.38 368.4,789.2C367.63,790.02 366.63,791.53 366.4,792.5C366.17,793.47 367.17,794.33 367,795C366.83,795.67 366.57,796.28 365.4,796.5C364.23,796.72 361.42,796.43 360,796.3C358.58,796.17 357.94,795.5 356.9,795.7C355.86,795.9 354.67,796.58 353.75,797.5C352.83,798.42 351.92,799.79 351.4,801.25C350.88,802.71 350.73,803.46 350.6,806.25Z"/>
<path class="m" d="M353.8,797.8C357,801.6 364,802.4 371.25,798.75C374,797.2 376,795 377,792" style="stroke-width:1.05"/>
<path class="m" d="M350.8,806.6C355,810.4 364,811.4 372.5,807.5C376,805.8 378.6,803.6 380,801.6" style="stroke-width:1.05"/>
<path class="m" d="M350.8,828.6C355,832.6 364,833.6 372,830.4C375.4,829 377.6,827.4 378.8,826" style="stroke-width:1.05"/>
<path class="mf" d="M351,815.8L351.2,823.6C354,825.6 360,826 364,825.4C367,824.8 368.9,822.6 368.7,820.6C368.4,818.4 366,817 362.6,816.8Z" style="stroke-width:1.6"/>
<path class="m" d="M352.8,817L353.2,823L357.6,819.6Z" style="stroke-width:1.1"/>
<path class="t" d="M357.6,819.6L364.6,824.6"/>
<path class="l" d="M352.5,815.2L366.5,823.2"/>
<path class="l" d="M369.4,825L373.8,827.5"/>
<path class="m" d="M378,830L388.4,836.4" style="stroke-width:1.4"/>
<path class="k" d="M387.6,834.6L391.6,836.2L389.6,839.4Z"/>
<ellipse class="mf" cx="392.8" cy="838.8" rx="3.4" ry="3.9" transform="rotate(-30 392.8 838.8)" style="fill:#000;stroke-width:1"/>
<ellipse class="w" cx="393.2" cy="839" rx="1.2" ry="1.7" transform="rotate(-30 393.2 839)" style="fill:#8a8a8a"/>
<path class="d2" d="M207,902L207,920" style="stroke-dasharray:7 2.5"/>
<path class="d2" d="M218.3,906.5L218.3,927" style="stroke-dasharray:7 2.5"/>
<path class="m" d="M202.4,920.4L202.4,940.4L211.8,940.4L211.8,920.4A4.7,1.8 0 0 1 202.4,920.4Z" style="fill:url(#braid);stroke-width:1.3"/>
<path class="mf" d="M201.5,939.6L201.5,951.4L212.7,951.4L212.7,939.6A5.6,2.2 0 0 1 201.5,939.6Z" style="stroke-width:1.6"/>
<path class="m" d="M201.7,940A5.4,2.2 0 0 0 212.5,940" style="stroke-width:2.6"/>
<path class="m" d="M201.5,943.8A5.6,2.2 0 0 0 212.7,943.8" style="stroke-width:1.2"/>
<path class="m" d="M204.5,946.8L204.5,950.9" style="stroke-width:1.2"/>
<path class="m" d="M207.1,946.8L207.1,950.9" style="stroke-width:1.2"/>
<path class="m" d="M209.7,946.8L209.7,950.9" style="stroke-width:1.2"/>
<path class="mf" d="M199.9,952.4L199.9,958.9L203.7,961.8L210.9,961.6L214.3,958.4L214.3,952.4L211.7,950.4L202.5,950.4Z" style="stroke-width:1.9"/>
<path class="m" d="M199.9,952.4L203.7,954.8L210.9,954.6L214.3,952.4M203.7,954.8L203.7,961.8M210.9,954.6L210.9,961.6" style="stroke-width:1.2"/>
<path class="m" d="M213.9,927L213.9,947L223.3,947L223.3,927A4.7,1.8 0 0 1 213.9,927Z" style="fill:url(#braid);stroke-width:1.3"/>
<path class="mf" d="M213,946.2L213,958L224.2,958L224.2,946.2A5.6,2.2 0 0 1 213,946.2Z" style="stroke-width:1.6"/>
<path class="m" d="M213.2,946.6A5.4,2.2 0 0 0 224,946.6" style="stroke-width:2.6"/>
<path class="m" d="M213,950.4A5.6,2.2 0 0 0 224.2,950.4" style="stroke-width:1.2"/>
<path class="m" d="M216,953.4L216,957.5" style="stroke-width:1.2"/>
<path class="m" d="M218.6,953.4L218.6,957.5" style="stroke-width:1.2"/>
<path class="m" d="M221.2,953.4L221.2,957.5" style="stroke-width:1.2"/>
<path class="mf" d="M211.4,959L211.4,965.5L215.2,968.4L222.4,968.2L225.8,965L225.8,959L223.2,957L214,957Z" style="stroke-width:1.9"/>
<path class="m" d="M211.4,959L215.2,961.4L222.4,961.2L225.8,959M215.2,961.4L215.2,968.4M222.4,961.2L222.4,968.2" style="stroke-width:1.2"/>
</g>
<g id="inset-box">
<rect x="468.5" y="602.8" width="156.5" height="96.6" style="fill:#fff;stroke:#000;stroke-width:1.3"/>
<path class="l" d="M532.5,602.8L532.5,699.4"/>
<text x="498.7" y="623" font-size="21" text-anchor="middle">8</text>
<path class="l" d="M473,624.5L521,624.5"/>
<text x="581" y="628.8" font-size="10.5" text-anchor="middle" style="stroke-width:0.1">32mm</text>
<path class="gf" d="M489.8,650L489.8,679.6L488.7,681L488.8,686L497.2,690.6L508.4,689.4L512.8,685.4L512.8,680.6L512,679.4L512,650Z"/>
<path class="g" d="M488.7,681L497,685.4L508.4,684.2L512.8,680.6M497,685.4L497.2,690.6M508.4,684.2L508.4,689.4" style="stroke-width:1.1"/>
<path class="g" d="M489.8,679.6C493,682.4 506,682.4 512,679.4" style="stroke-width:1"/>
<path class="gf" d="M488.7,641.8L488.9,649A12,6.4 0 0 0 512.8,649L512.9,641.8Z"/>
<ellipse class="gf" cx="500.8" cy="641.8" rx="12.1" ry="6.5"/>
<ellipse class="g" cx="501.1" cy="645.6" rx="7.4" ry="3" style="stroke-width:1.2"/>
<path class="g" d="M494.9,637.2L494.9,643.4" style="stroke-width:1.1"/>
<path class="g" d="M501.6,636L501.6,642" style="stroke-width:1.1"/>
<path class="g" d="M506.2,637.4L506.2,643" style="stroke-width:1.1"/>
<path class="g" d="M494.6,649L494.6,653.2" style="stroke-width:1.1"/>
<path class="g" d="M500.5,649.8L500.5,654.6" style="stroke-width:1.1"/>
<path class="g" d="M506.5,649L506.5,653.6" style="stroke-width:1.1"/>
<path class="g" d="M491.2,640L491.4,646" style="stroke-width:1.1"/>
<path class="g" d="M510.4,640L510.4,646" style="stroke-width:1.1"/>
<ellipse class="g" cx="493.6" cy="658.8" rx="2.5" ry="3.5" transform="rotate(-18 493.6 658.8)"/>
<ellipse class="g" cx="493.4" cy="676" rx="2.6" ry="3.6" transform="rotate(-18 493.4 676)" style="stroke-width:1.2"/>
<path class="g" d="M491,674.4C490.6,676.6 491.4,678.6 492.8,679.4" style="stroke-width:2.2"/>
<path class="g" d="M504.6,670.2C507,669.6 510,668.2 511.2,666.6" style="stroke-width:3.2"/>
<path class="g" d="M507.6,658.6C508.4,658.3 509.2,657.8 509.7,657.2" style="stroke-width:2.4"/>
<path class="g" d="M507.6,677.8C508.4,677.5 509.2,677 509.7,676.4" style="stroke-width:2.4"/>
<path class="mf" d="M560.6,652L560.6,675.6A20.4,11.6 0 0 0 601.4,675.6L601.4,652Z" style="stroke-width:1.8"/>
<path class="m" d="M560.8,655A20.2,11.4 0 0 0 601.2,655" style="stroke-width:2.6"/>
<path class="m" d="M560.8,658.4A20.2,11.4 0 0 0 601.2,658.4" style="stroke-width:1.1"/>
<path class="m" d="M560.8,660.6A20.2,11.4 0 0 0 601.2,660.6" style="stroke-width:2.4"/>
<path class="m" d="M560.8,663.4A20.2,11.4 0 0 0 601.2,663.4" style="stroke-width:1.0"/>
<path class="m" d="M560.8,665.8A20.2,11.4 0 0 0 601.2,665.8" style="stroke-width:1.0"/>
<path class="m" d="M560.8,668.4A20.2,11.4 0 0 0 601.2,668.4" style="stroke-width:2.6"/>
<path class="m" d="M560.8,671.6A20.2,11.4 0 0 0 601.2,671.6" style="stroke-width:1.0"/>
<path class="m" d="M560.8,673.6A20.2,11.4 0 0 0 601.2,673.6" style="stroke-width:1.0"/>
<ellipse class="hf" cx="581" cy="651" rx="20.4" ry="11.6" style="stroke-width:2.4"/>
<path class="mf" d="M566,648.6L572.6,640.2L585.6,638.6L596,643.6L597.6,652.6L591.6,659L576.6,659.6L567.6,654.6Z" style="stroke-width:1.5"/>
<path class="m" d="M567.6,654.6L567.8,657.6L576.8,662.4L591.6,661.8L597.6,655.6L597.6,652.6M576.6,659.6L576.8,662.4M591.6,659L591.6,661.8" style="stroke-width:1.1"/>
<ellipse class="mf" cx="581.4" cy="649.6" rx="13.2" ry="7.4"/>
<ellipse class="mf" cx="581.6" cy="651" rx="11" ry="5.6"/>
</g>
</svg>
</body></html>
